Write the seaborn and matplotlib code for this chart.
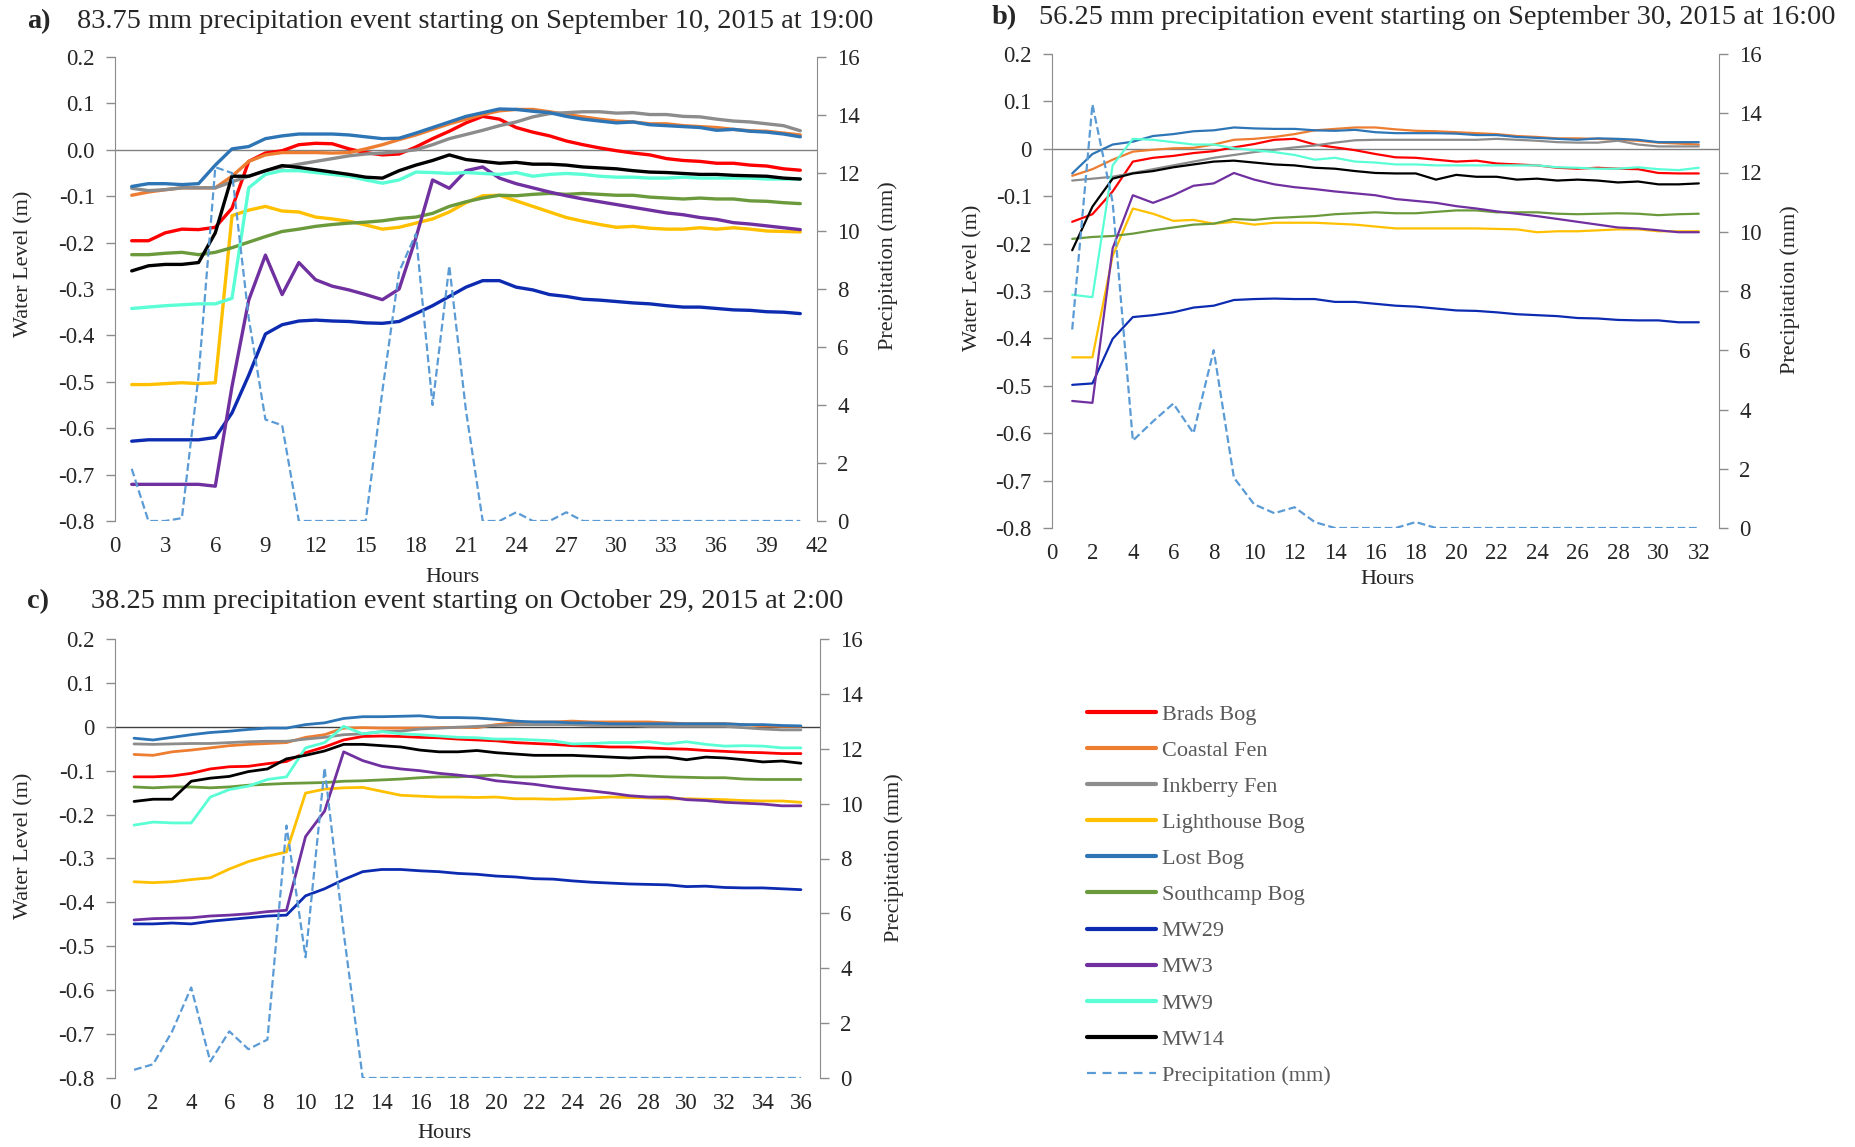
import matplotlib
matplotlib.use('Agg')
import matplotlib.pyplot as plt
import seaborn as sns
from matplotlib.lines import Line2D
from matplotlib.ticker import FuncFormatter, MultipleLocator

# ---- series names / colours ----
SITES = ['Brads Bog', 'Coastal Fen', 'Inkberry Fen', 'Lighthouse Bog', 'Lost Bog',
         'Southcamp Bog', 'MW29', 'MW3', 'MW9', 'MW14']
COLORS = ['#ff0000', '#ed7d31', '#8c8c8c', '#ffc000', '#2e75b6',
          '#6b9a3c', '#0c2bb0', '#7030a0', '#5affd6', '#000000']
PRECIP_COLOR = '#5b9bd5'

# ---- panel a: Sept 10, 2015 (hours 1-41) ----
a_hours = list(range(1, 42))
a_brads = [-0.196, -0.196, -0.179, -0.171, -0.172, -0.167, -0.126, -0.025, -0.007, -0.002, 0.011, 0.014, 0.013, 0.002,
           -0.006, -0.011, -0.009, 0.006, 0.024, 0.040, 0.058, 0.072, 0.066, 0.048, 0.038, 0.030, 0.019, 0.011,
           0.004, -0.002, -0.007, -0.011, -0.019, -0.023, -0.025, -0.029, -0.029, -0.033, -0.035, -0.041, -0.044]
a_coastal = [-0.098, -0.091, -0.086, -0.082, -0.082, -0.082, -0.057, -0.025, -0.011, -0.006, -0.006, -0.006, -0.007,
             -0.006, 0.002, 0.011, 0.022, 0.032, 0.044, 0.056, 0.066, 0.076, 0.084, 0.087, 0.087, 0.082, 0.076,
             0.071, 0.066, 0.062, 0.060, 0.056, 0.056, 0.052, 0.050, 0.048, 0.044, 0.041, 0.040, 0.036, 0.032]
a_inkberry = [-0.083, -0.088, -0.086, -0.082, -0.082, -0.082, -0.069, -0.057, -0.045, -0.037, -0.031, -0.025, -0.019,
              -0.013, -0.009, -0.007, -0.004, 0.000, 0.011, 0.024, 0.033, 0.042, 0.052, 0.060, 0.071, 0.078, 0.080,
              0.082, 0.082, 0.079, 0.080, 0.076, 0.076, 0.072, 0.071, 0.066, 0.062, 0.060, 0.056, 0.052, 0.041]
a_lighthouse = [-0.506, -0.506, -0.504, -0.502, -0.504, -0.502, -0.142, -0.130, -0.122, -0.132, -0.134, -0.145, -0.149,
                -0.154, -0.162, -0.171, -0.167, -0.158, -0.149, -0.134, -0.114, -0.099, -0.098, -0.110, -0.122,
                -0.134, -0.146, -0.154, -0.161, -0.167, -0.165, -0.169, -0.171, -0.171, -0.168, -0.171, -0.168,
                -0.171, -0.175, -0.176, -0.177]
a_lost = [-0.079, -0.073, -0.073, -0.075, -0.073, -0.033, 0.002, 0.007, 0.024, 0.030, 0.034, 0.034, 0.034, 0.032,
          0.028, 0.024, 0.025, 0.036, 0.048, 0.060, 0.072, 0.080, 0.088, 0.087, 0.083, 0.080, 0.072, 0.066, 0.062,
          0.058, 0.060, 0.054, 0.052, 0.050, 0.048, 0.042, 0.044, 0.040, 0.038, 0.034, 0.028]
a_southcamp = [-0.226, -0.226, -0.223, -0.221, -0.226, -0.221, -0.211, -0.199, -0.187, -0.176, -0.171, -0.165,
               -0.161, -0.158, -0.156, -0.153, -0.148, -0.145, -0.137, -0.122, -0.112, -0.104, -0.098, -0.099,
               -0.096, -0.094, -0.096, -0.094, -0.096, -0.098, -0.098, -0.102, -0.104, -0.106, -0.104, -0.106,
               -0.106, -0.110, -0.111, -0.114, -0.116]
a_mw29 = [-0.628, -0.625, -0.625, -0.625, -0.625, -0.620, -0.567, -0.486, -0.397, -0.377, -0.369, -0.367, -0.369,
          -0.370, -0.373, -0.374, -0.370, -0.353, -0.336, -0.316, -0.296, -0.282, -0.282, -0.296, -0.302, -0.312,
          -0.316, -0.322, -0.324, -0.327, -0.330, -0.332, -0.336, -0.339, -0.339, -0.342, -0.345, -0.346, -0.349,
          -0.350, -0.353]
a_mw3 = [-0.721, -0.721, -0.721, -0.721, -0.721, -0.725, -0.510, -0.324, -0.227, -0.312, -0.243, -0.280, -0.294,
         -0.302, -0.312, -0.323, -0.300, -0.190, -0.065, -0.083, -0.045, -0.037, -0.061, -0.073, -0.082, -0.091,
         -0.099, -0.106, -0.112, -0.118, -0.124, -0.130, -0.136, -0.140, -0.146, -0.150, -0.157, -0.160, -0.164,
         -0.168, -0.172]
a_mw9 = [-0.342, -0.339, -0.336, -0.334, -0.332, -0.332, -0.320, -0.082, -0.053, -0.045, -0.045, -0.049, -0.053,
         -0.057, -0.065, -0.072, -0.065, -0.048, -0.049, -0.051, -0.049, -0.051, -0.053, -0.049, -0.057, -0.053,
         -0.051, -0.053, -0.057, -0.059, -0.059, -0.061, -0.061, -0.059, -0.061, -0.061, -0.061, -0.061, -0.063,
         -0.063, -0.063]
a_mw14 = [-0.261, -0.250, -0.247, -0.247, -0.243, -0.179, -0.057, -0.057, -0.045, -0.034, -0.038, -0.043, -0.048,
          -0.053, -0.059, -0.061, -0.045, -0.033, -0.023, -0.011, -0.021, -0.025, -0.029, -0.027, -0.031, -0.031,
          -0.033, -0.037, -0.039, -0.041, -0.045, -0.048, -0.049, -0.051, -0.053, -0.053, -0.055, -0.056, -0.057,
          -0.061, -0.063]
a_precip = [1.8, 0, 0, 0.1, 5.0, 12.2, 12.0, 7.0, 3.5, 3.3, 0, 0, 0, 0, 0, 4.5, 8.6, 9.9, 4.0, 8.8, 3.8, 0, 0, 0.3,
            0, 0, 0.3, 0, 0, 0, 0, 0, 0, 0, 0, 0, 0, 0, 0, 0, 0]

# ---- panel b: Sept 30, 2015 (hours 1-32) ----
b_hours = list(range(1, 33))
b_brads = [-0.154, -0.138, -0.090, -0.027, -0.019, -0.015, -0.009, -0.005, 0.003, 0.010, 0.019, 0.021, 0.009, 0.003,
           -0.003, -0.011, -0.018, -0.019, -0.023, -0.027, -0.025, -0.031, -0.033, -0.035, -0.040, -0.042, -0.040,
           -0.042, -0.043, -0.051, -0.052, -0.052]
b_coastal = [-0.057, -0.043, -0.023, -0.006, -0.002, 0.001, 0.002, 0.009, 0.019, 0.021, 0.025, 0.031, 0.039, 0.042,
             0.045, 0.045, 0.041, 0.038, 0.037, 0.035, 0.033, 0.031, 0.027, 0.025, 0.022, 0.022, 0.021, 0.019,
             0.017, 0.013, 0.011, 0.009]
b_inkberry = [-0.067, -0.063, -0.059, -0.051, -0.043, -0.035, -0.027, -0.019, -0.013, -0.007, -0.002, 0.003, 0.007,
              0.013, 0.018, 0.019, 0.019, 0.019, 0.019, 0.019, 0.019, 0.021, 0.019, 0.017, 0.014, 0.013, 0.013,
              0.017, 0.009, 0.005, 0.005, 0.005]
b_lighthouse = [-0.440, -0.440, -0.226, -0.126, -0.137, -0.152, -0.150, -0.158, -0.154, -0.160, -0.156, -0.156,
                -0.156, -0.158, -0.160, -0.164, -0.168, -0.168, -0.168, -0.168, -0.168, -0.169, -0.170, -0.176,
                -0.174, -0.174, -0.172, -0.170, -0.170, -0.174, -0.174, -0.174]
b_lost = [-0.052, -0.011, 0.009, 0.015, 0.027, 0.031, 0.037, 0.039, 0.045, 0.043, 0.042, 0.042, 0.039, 0.038, 0.040,
          0.035, 0.033, 0.033, 0.033, 0.032, 0.029, 0.029, 0.025, 0.023, 0.021, 0.019, 0.022, 0.021, 0.019, 0.014,
          0.014, 0.014]
b_southcamp = [-0.190, -0.186, -0.184, -0.179, -0.172, -0.166, -0.160, -0.158, -0.148, -0.150, -0.146, -0.144,
               -0.142, -0.138, -0.136, -0.134, -0.136, -0.136, -0.133, -0.130, -0.130, -0.134, -0.134, -0.134,
               -0.137, -0.138, -0.137, -0.136, -0.137, -0.140, -0.138, -0.137]
b_mw29 = [-0.498, -0.495, -0.401, -0.355, -0.351, -0.345, -0.335, -0.331, -0.319, -0.317, -0.316, -0.317, -0.317,
          -0.323, -0.323, -0.327, -0.331, -0.333, -0.337, -0.341, -0.342, -0.345, -0.349, -0.351, -0.353, -0.357,
          -0.358, -0.361, -0.362, -0.362, -0.366, -0.366]
b_mw3 = [-0.532, -0.536, -0.210, -0.098, -0.114, -0.098, -0.078, -0.073, -0.051, -0.065, -0.075, -0.081, -0.085,
         -0.090, -0.094, -0.098, -0.106, -0.110, -0.114, -0.121, -0.126, -0.132, -0.137, -0.142, -0.148, -0.154,
         -0.160, -0.166, -0.168, -0.172, -0.176, -0.176]
b_mw9 = [-0.308, -0.313, -0.035, 0.021, 0.019, 0.014, 0.009, 0.009, 0.001, -0.003, -0.007, -0.013, -0.023, -0.019,
         -0.027, -0.029, -0.033, -0.033, -0.035, -0.035, -0.035, -0.035, -0.035, -0.035, -0.039, -0.040, -0.042,
         -0.042, -0.039, -0.043, -0.045, -0.040]
b_mw14 = [-0.214, -0.122, -0.063, -0.052, -0.047, -0.039, -0.033, -0.027, -0.025, -0.029, -0.033, -0.035, -0.040,
          -0.042, -0.047, -0.051, -0.052, -0.052, -0.065, -0.055, -0.059, -0.059, -0.065, -0.063, -0.067, -0.065,
          -0.067, -0.071, -0.069, -0.075, -0.075, -0.073]
b_precip = [6.7, 14.3, 11.0, 2.95, 3.6, 4.2, 3.2, 6.0, 1.7, 0.8, 0.5, 0.7, 0.2, 0, 0, 0, 0, 0.2,
            0, 0, 0, 0, 0, 0, 0, 0, 0, 0, 0, 0, 0, 0]

# ---- panel c: Oct 29, 2015 (hours 1-36) ----
c_hours = list(range(1, 37))
c_brads = [-0.114, -0.114, -0.112, -0.106, -0.096, -0.091, -0.090, -0.084, -0.079, -0.059, -0.046, -0.030, -0.022,
           -0.021, -0.022, -0.024, -0.025, -0.028, -0.030, -0.032, -0.036, -0.038, -0.040, -0.043, -0.044, -0.046,
           -0.046, -0.048, -0.050, -0.051, -0.054, -0.056, -0.058, -0.059, -0.061, -0.061]
c_coastal = [-0.063, -0.065, -0.057, -0.053, -0.048, -0.043, -0.040, -0.038, -0.036, -0.024, -0.018, -0.003, -0.002,
             -0.003, -0.003, -0.003, -0.002, -0.001, -0.002, 0.005, 0.009, 0.011, 0.011, 0.013, 0.011, 0.011,
             0.011, 0.011, 0.009, 0.007, 0.007, 0.007, 0.005, 0.002, 0.001, 0.001]
c_inkberry = [-0.039, -0.040, -0.039, -0.038, -0.038, -0.036, -0.034, -0.033, -0.033, -0.028, -0.024, -0.018, -0.016,
              -0.011, -0.010, -0.005, -0.003, -0.001, 0.001, 0.003, 0.005, 0.005, 0.005, 0.005, 0.003, 0.003,
              0.003, 0.001, 0.001, 0.001, 0.001, 0.001, -0.002, -0.005, -0.007, -0.007]
c_lighthouse = [-0.353, -0.355, -0.353, -0.348, -0.344, -0.324, -0.307, -0.295, -0.285, -0.151, -0.142, -0.139,
                -0.138, -0.147, -0.156, -0.158, -0.160, -0.160, -0.161, -0.160, -0.164, -0.164, -0.165, -0.164,
                -0.162, -0.160, -0.161, -0.162, -0.164, -0.164, -0.165, -0.166, -0.168, -0.169, -0.169, -0.172]
c_lost = [-0.026, -0.030, -0.024, -0.018, -0.013, -0.010, -0.006, -0.003, -0.003, 0.005, 0.009, 0.019, 0.023, 0.023,
          0.024, 0.025, 0.021, 0.021, 0.020, 0.017, 0.013, 0.011, 0.011, 0.009, 0.009, 0.007, 0.007, 0.007, 0.007,
          0.007, 0.007, 0.007, 0.005, 0.005, 0.003, 0.002]
c_southcamp = [-0.137, -0.139, -0.137, -0.137, -0.139, -0.137, -0.133, -0.131, -0.129, -0.128, -0.127, -0.124,
               -0.123, -0.121, -0.119, -0.116, -0.114, -0.114, -0.112, -0.110, -0.114, -0.114, -0.113, -0.112,
               -0.112, -0.112, -0.110, -0.112, -0.114, -0.115, -0.116, -0.116, -0.119, -0.120, -0.120, -0.120]
c_mw29 = [-0.449, -0.449, -0.447, -0.449, -0.443, -0.439, -0.435, -0.431, -0.429, -0.385, -0.369, -0.348, -0.330,
          -0.325, -0.325, -0.328, -0.330, -0.334, -0.336, -0.340, -0.342, -0.346, -0.347, -0.351, -0.354, -0.356,
          -0.358, -0.359, -0.360, -0.364, -0.363, -0.366, -0.367, -0.367, -0.369, -0.371]
c_mw3 = [-0.440, -0.437, -0.436, -0.435, -0.431, -0.429, -0.426, -0.421, -0.418, -0.250, -0.192, -0.057, -0.077,
         -0.090, -0.096, -0.100, -0.106, -0.110, -0.115, -0.123, -0.127, -0.131, -0.137, -0.142, -0.146, -0.151,
         -0.157, -0.160, -0.160, -0.166, -0.168, -0.172, -0.174, -0.176, -0.180, -0.180]
c_mw9 = [-0.224, -0.217, -0.219, -0.219, -0.160, -0.143, -0.135, -0.120, -0.114, -0.048, -0.036, 0.001, -0.016,
         -0.011, -0.016, -0.018, -0.021, -0.024, -0.025, -0.028, -0.028, -0.030, -0.032, -0.039, -0.038, -0.036,
         -0.036, -0.034, -0.039, -0.034, -0.040, -0.044, -0.043, -0.044, -0.048, -0.048]
c_mw14 = [-0.170, -0.165, -0.165, -0.124, -0.117, -0.113, -0.102, -0.096, -0.073, -0.065, -0.055, -0.040, -0.040,
          -0.043, -0.046, -0.053, -0.057, -0.057, -0.054, -0.059, -0.062, -0.065, -0.065, -0.065, -0.067, -0.069,
          -0.071, -0.069, -0.069, -0.075, -0.069, -0.071, -0.075, -0.080, -0.078, -0.083]
c_precip = [0.3, 0.5, 1.7, 3.3, 0.6, 1.7, 1.05, 1.4, 9.2, 4.4, 11.3, 5.3,
            0, 0, 0, 0, 0, 0, 0, 0, 0, 0, 0, 0, 0, 0, 0, 0, 0, 0, 0, 0, 0, 0, 0, 0]

# ---- styling ----
sns.set_style('white')
plt.rcParams['font.family'] = ['Liberation Serif', 'DejaVu Serif']
plt.rcParams['axes.unicode_minus'] = False

W, H = 1856, 1147
TICK_FS = 16.5
LABEL_FS = 16
TITLE_FS = 20.4
SPINE_C = '#8c8c8c'


def fx(x):
    return x / W


def fy(y):
    return 1 - y / H


def add_axes(box):
    l, t, r, b = box
    return fig.add_axes([fx(l), fy(b), (r - l) / W, (b - t) / H])


def zero_fmt(one_decimal_zero):
    def f(v, _):
        if abs(v) < 1e-9:
            return '0.0' if one_decimal_zero else '0'
        return f'{v:.1f}'
    return f


def draw_panel(ax, hours, series, precip, xmax, xstep, lw, plw, zero_dec, zero_c):
    for vals, col in zip(series, COLORS):
        sns.lineplot(x=hours, y=vals, ax=ax, color=col, lw=lw)
    ax.axhline(0, color=zero_c, lw=1.0, zorder=0)
    ax.set_xlim(0, xmax)
    ax.set_ylim(-0.8, 0.2)
    ax.xaxis.set_major_locator(MultipleLocator(xstep))
    ax.yaxis.set_major_locator(MultipleLocator(0.1))
    ax.yaxis.set_major_formatter(FuncFormatter(zero_fmt(zero_dec)))
    for s in ['top', 'right', 'bottom']:
        ax.spines[s].set_visible(False)
    ax.spines['left'].set_color(SPINE_C)
    ax.tick_params(axis='y', length=6.5, width=1, color=SPINE_C, labelsize=TICK_FS, pad=8, left=True)
    ax.tick_params(axis='x', length=0, labelsize=TICK_FS, pad=11)
    ax.set_xlabel('')
    ax.set_ylabel('')

    ax2 = ax.twinx()
    sns.lineplot(x=hours, y=precip, ax=ax2, color=PRECIP_COLOR, lw=plw, linestyle=(0, (3.5, 1.6)))
    ax2.set_ylim(0, 16)
    ax2.set_xlim(0, xmax)
    ax2.yaxis.set_major_locator(MultipleLocator(2))
    for s in ['top', 'left', 'bottom']:
        ax2.spines[s].set_visible(False)
    ax2.spines['right'].set_color(SPINE_C)
    ax2.tick_params(axis='y', length=6.5, width=1, color=SPINE_C, labelsize=TICK_FS, pad=8, right=True)
    ax2.set_ylabel('')
    return ax2


fig = plt.figure(figsize=(W / 100, H / 100), dpi=100)

ax_a = add_axes((115, 57, 817, 521))
ax_b = add_axes((1052, 54, 1719, 528))
ax_c = add_axes((115, 639, 820, 1078))

draw_panel(ax_a, a_hours, [a_brads, a_coastal, a_inkberry, a_lighthouse, a_lost, a_southcamp,
                           a_mw29, a_mw3, a_mw9, a_mw14], a_precip, 42, 3, 2.4, 1.6, True, '#808080')
draw_panel(ax_b, b_hours, [b_brads, b_coastal, b_inkberry, b_lighthouse, b_lost, b_southcamp,
                           b_mw29, b_mw3, b_mw9, b_mw14], b_precip, 33, 2, 1.6, 1.6, False, '#808080')
draw_panel(ax_c, c_hours, [c_brads, c_coastal, c_inkberry, c_lighthouse, c_lost, c_southcamp,
                           c_mw29, c_mw3, c_mw9, c_mw14], c_precip, 37, 2, 2.0, 1.6, False, '#404040')

# titles
titles = [
    ((27, 22), (77, 22), 'a)', '83.75 mm precipitation event starting on September 10, 2015 at 19:00'),
    ((992, 18), (1039, 18), 'b)', '56.25 mm precipitation event starting on September 30, 2015 at 16:00'),
    ((27, 602), (91, 602), 'c)', '38.25 mm precipitation event starting on October 29, 2015 at 2:00'),
]
for (lx, ly), (tx, ty), lab, txt in titles:
    fig.text(fx(lx), fy(ly), lab, fontsize=TITLE_FS, fontweight='bold', va='center', ha='left')
    fig.text(fx(tx), fy(ty), txt, fontsize=TITLE_FS, va='center', ha='left')

# axis titles
for x, y in [(24, 264), (973, 278), (24, 846)]:
    fig.text(fx(x), fy(y), 'Water Level (m)', rotation=90, fontsize=LABEL_FS, ha='center', va='center')
for x, y in [(888, 266), (1790, 290), (894, 858)]:
    fig.text(fx(x), fy(y), 'Precipitation (mm)', rotation=90, fontsize=LABEL_FS, ha='center', va='center')
for x, y in [(452, 578), (1387, 579), (444, 1134)]:
    fig.text(fx(x), fy(y), 'Hours', fontsize=LABEL_FS, ha='center', va='center')

# legend
handles = [Line2D([], [], color=c, lw=3) for c in COLORS]
handles.append(Line2D([], [], color=PRECIP_COLOR, lw=1.6, linestyle=(0, (4, 3))))
leg = fig.legend(handles, SITES + ['Precipitation (mm)'], loc='upper left',
                 bbox_to_anchor=(fx(1076), fy(693)), frameon=False, fontsize=16,
                 handlelength=3.1, handletextpad=0.25, labelspacing=0.70, borderpad=0)
for t in leg.get_texts():
    t.set_color('#595959')

fig.savefig('out.png', dpi=100)
